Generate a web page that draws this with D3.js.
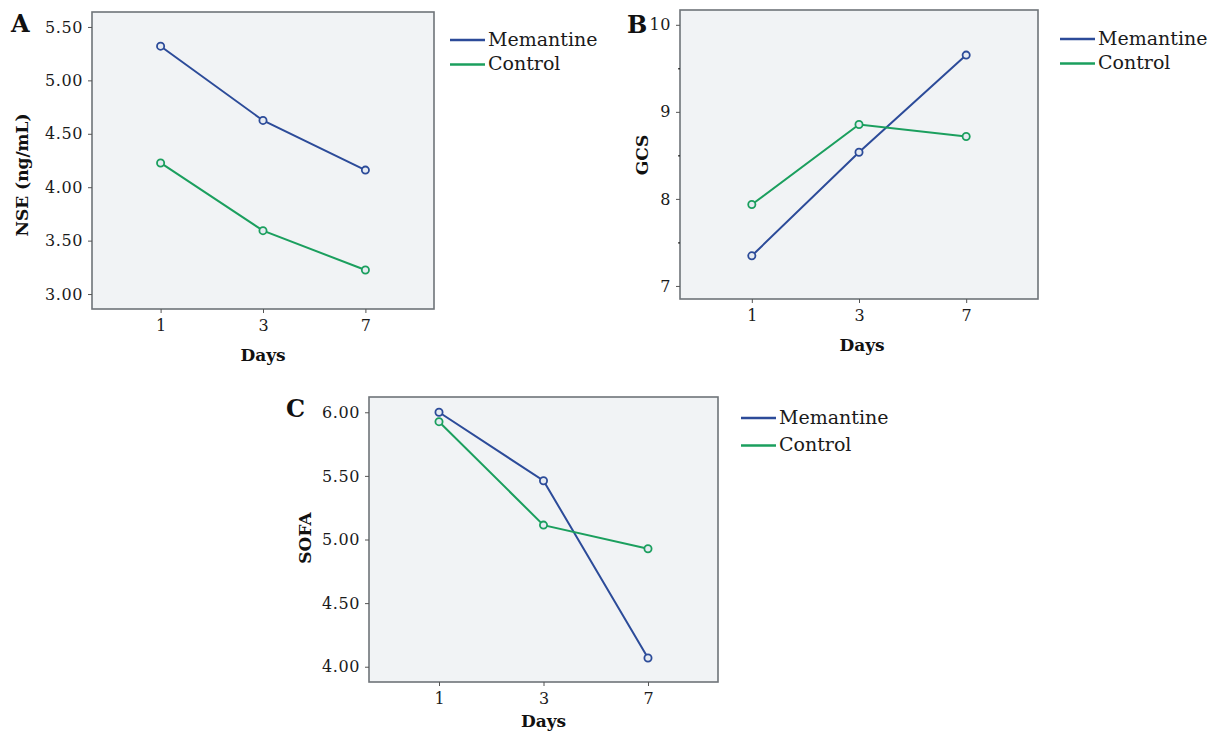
<!DOCTYPE html>
<html><head><meta charset="utf-8">
<script src="https://cdn.jsdelivr.net/npm/d3@7"></script>
<style>
body{margin:0;background:#fff;}
svg{display:block;}
</style></head>
<body>
<svg id="c" width="1211" height="736"></svg>
<script>
const days = ["1","3","7"];
const seriesNames = ["Memantine","Control"];
const nseMemantine = [5.32, 4.625, 4.16];
const nseControl = [4.227, 3.593, 3.225];
const gcsMemantine = [7.346, 8.536, 9.652];
const gcsControl = [7.935, 8.855, 8.717];
const sofaMemantine = [6.00, 5.462, 4.069];
const sofaControl = [5.926, 5.113, 4.927];
const nseTicks = [3.0, 3.5, 4.0, 4.5, 5.0, 5.5];
const gcsTicks = [7, 8, 9, 10];
const gcsMinorTicks = [7.5, 8.5, 9.5];
const sofaTicks = [4.0, 4.5, 5.0, 5.5, 6.0];

const colors = {Memantine:"#2c4b99", Control:"#1b9f5e"};
const svg = d3.select("#c");
const serif = "'DejaVu Serif', serif";

function panel(o){
  const g = svg.append("g");
  const x = d3.scalePoint().domain(days).range([o.x0, o.x1]).padding(0.67);
  const y = d3.scaleLinear().domain(o.domain).range([o.y1, o.y0]);
  g.append("rect").attr("x",o.x0).attr("y",o.y0).attr("width",o.x1-o.x0).attr("height",o.y1-o.y0)
    .attr("fill","#f1f3f5").attr("stroke","#6f7479").attr("stroke-width",1.6);
  const ya = g.append("g").attr("transform",`translate(${o.x0},0)`)
    .call(d3.axisLeft(y).tickValues(o.ticks).tickFormat(o.fmt).tickSize(4).tickPadding(5));
  ya.select(".domain").remove();
  ya.selectAll("line").attr("stroke","#555");
  ya.selectAll("text").attr("font-family",serif).attr("font-size",16).attr("fill","#1a1a1a").attr("letter-spacing",0.6);
  if(o.minor){
    g.append("g").attr("transform",`translate(${o.x0},0)`)
      .call(d3.axisLeft(y).tickValues(o.minor).tickFormat("").tickSize(2)).select(".domain").remove();
  }
  const xa = g.append("g").attr("transform",`translate(0,${o.y1})`)
    .call(d3.axisBottom(x).tickSize(4).tickPadding(7));
  xa.select(".domain").remove();
  xa.selectAll("line").attr("stroke","#555");
  xa.selectAll("text").attr("font-family",serif).attr("font-size",16).attr("fill","#1a1a1a");
  const line = d3.line().x((d,i)=>x(days[i])).y(d=>y(d));
  o.series.forEach(s=>{
    g.append("path").datum(s.values).attr("d",line).attr("fill","none")
      .attr("stroke",colors[s.name]).attr("stroke-width",2);
    g.selectAll(null).data(s.values).enter().append("circle")
      .attr("cx",(d,i)=>x(days[i])).attr("cy",d=>y(d)).attr("r",3.6)
      .attr("fill","#e6ebf2").attr("stroke",colors[s.name]).attr("stroke-width",1.8);
  });
  g.append("text").attr("x",o.letter[0]).attr("y",o.letter[1]).text(o.letterText)
    .attr("font-family",serif).attr("font-weight","bold").attr("font-size",24).attr("fill","#111");
  g.append("text").attr("transform",`translate(${o.ylab[0]},${o.ylab[1]}) rotate(-90)`)
    .attr("text-anchor","middle").attr("dominant-baseline","central").text(o.ytitle)
    .attr("font-family",serif).attr("font-weight","bold").attr("font-size",17).attr("fill","#111");
  g.append("text").attr("x",(x(days[0])+x(days[2]))/2+o.xlabDx).attr("y",o.xlabY).attr("text-anchor","middle").text("Days")
    .attr("font-family",serif).attr("font-weight","bold").attr("font-size",17).attr("fill","#111");
  seriesNames.forEach((n,i)=>{
    const ly = o.leg[1] + i*o.legGap;
    g.append("line").attr("x1",o.leg[0]).attr("x2",o.leg[0]+35).attr("y1",ly).attr("y2",ly)
      .attr("stroke",colors[n]).attr("stroke-width",2.5);
    g.append("text").attr("x",o.leg[0]+38).attr("y",ly+5.5).text(n)
      .attr("font-family",serif).attr("font-size",19).attr("fill","#1a1a1a");
  });
}

panel({x0:92,x1:434,y0:12,y1:309,domain:[2.86,5.64],ticks:nseTicks,fmt:d3.format(".2f"),
  series:[{name:"Memantine",values:nseMemantine},{name:"Control",values:nseControl}],
  letter:[11,32],letterText:"A",ylab:[22,175],ytitle:"NSE (ng/mL)",xlabY:361,xlabDx:0,
  leg:[450,40],legGap:24.5});
panel({x0:680,x1:1038,y0:10,y1:299,domain:[6.85,10.17],ticks:gcsTicks,minor:gcsMinorTicks,fmt:d3.format("d"),
  series:[{name:"Memantine",values:gcsMemantine},{name:"Control",values:gcsControl}],
  letter:[627,33],letterText:"B",ylab:[642,155],ytitle:"GCS",xlabY:351,xlabDx:3,
  leg:[1060,39],legGap:24.5});
panel({x0:369,x1:718,y0:397,y1:682,domain:[3.88,6.12],ticks:sofaTicks,fmt:d3.format(".2f"),
  series:[{name:"Memantine",values:sofaMemantine},{name:"Control",values:sofaControl}],
  letter:[286,417],letterText:"C",ylab:[305,538],ytitle:"SOFA",xlabY:727,xlabDx:0,
  leg:[741,418],legGap:27.5});
</script>
</body></html>
